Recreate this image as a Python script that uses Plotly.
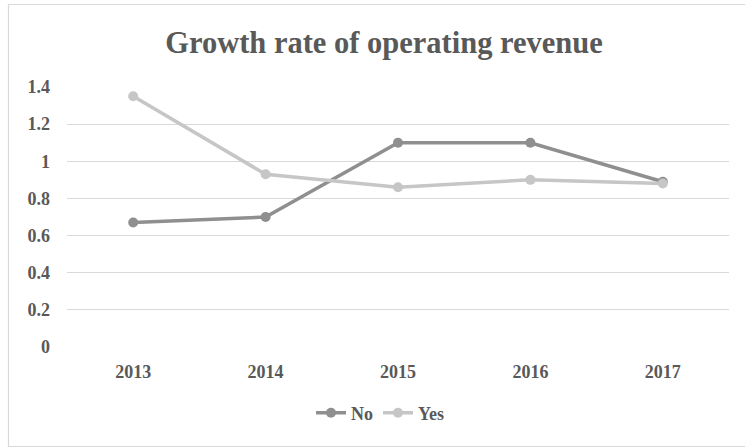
import plotly.graph_objects as go

years = ["2013", "2014", "2015", "2016", "2017"]
no_values = [0.67, 0.70, 1.10, 1.10, 0.89]
yes_values = [1.35, 0.93, 0.86, 0.90, 0.88]
y_ticks = [0, 0.2, 0.4, 0.6, 0.8, 1, 1.2, 1.4]
y_tick_text = ["0", "0.2", "0.4", "0.6", "0.8", "1", "1.2", "1.4"]

text_color = "#595959"
font_family = "Liberation Serif, Times New Roman, serif"

fig = go.Figure()
fig.add_trace(go.Scatter(
    x=years, y=no_values, name="<b>No</b>", mode="lines+markers",
    line=dict(color="#8f8f8f", width=3.5),
    marker=dict(size=10, color="#8f8f8f"),
))
fig.add_trace(go.Scatter(
    x=years, y=yes_values, name="<b>Yes</b>", mode="lines+markers",
    line=dict(color="#c6c6c6", width=3.5),
    marker=dict(size=10, color="#c6c6c6"),
))

W, H = 745, 448
ml, mr, mt, mb = 67, 16, 87, 101
pw, ph = W - ml - mr, H - mt - mb

def px_to_paper_x(px):
    return (px - ml) / pw

def px_to_paper_y(py):
    return (H - mb - py) / ph

fig.update_layout(
    width=W, height=H,
    margin=dict(l=ml, r=mr, t=mt, b=mb),
    paper_bgcolor="white", plot_bgcolor="white",
    font=dict(family=font_family, color=text_color, size=18),
    title=dict(
        text="<b>Growth rate of operating revenue</b>",
        x=px_to_paper_x(384), xref="paper", xanchor="center",
        y=1 - 42 / H, yref="container", yanchor="middle",
        font=dict(size=30.5, color=text_color, family=font_family),
    ),
    showlegend=True,
    legend=dict(
        orientation="h", x=px_to_paper_x(380), xanchor="center",
        y=px_to_paper_y(413), yanchor="middle",
        font=dict(size=18, color=text_color, family=font_family),
        itemwidth=30,
    ),
    xaxis=dict(
        range=[-0.5, 4.5], showgrid=False, zeroline=False, showline=False,
        ticks="", ticklabelstandoff=12,
        tickfont=dict(size=18, color=text_color, family=font_family),
        tickprefix="<b>", ticksuffix="</b>",
    ),
    yaxis=dict(
        range=[0, 1.4], tickvals=y_ticks, ticktext=[f"<b>{t}</b>" for t in y_tick_text],
        showgrid=True, gridcolor="#d9d9d9", gridwidth=1.2,
        zeroline=False, showline=False, ticks="", ticklabelstandoff=16,
        tickfont=dict(size=18, color=text_color, family=font_family),
    ),
)

# outer chart frame
fig.add_shape(
    type="rect", xref="paper", yref="paper",
    x0=px_to_paper_x(8.5), x1=px_to_paper_x(760),
    y0=px_to_paper_y(446.5), y1=px_to_paper_y(4.5),
    line=dict(color="#d9d9d9", width=1.2), fillcolor="rgba(0,0,0,0)",
    layer="below",
)

fig.write_html("out.html")
